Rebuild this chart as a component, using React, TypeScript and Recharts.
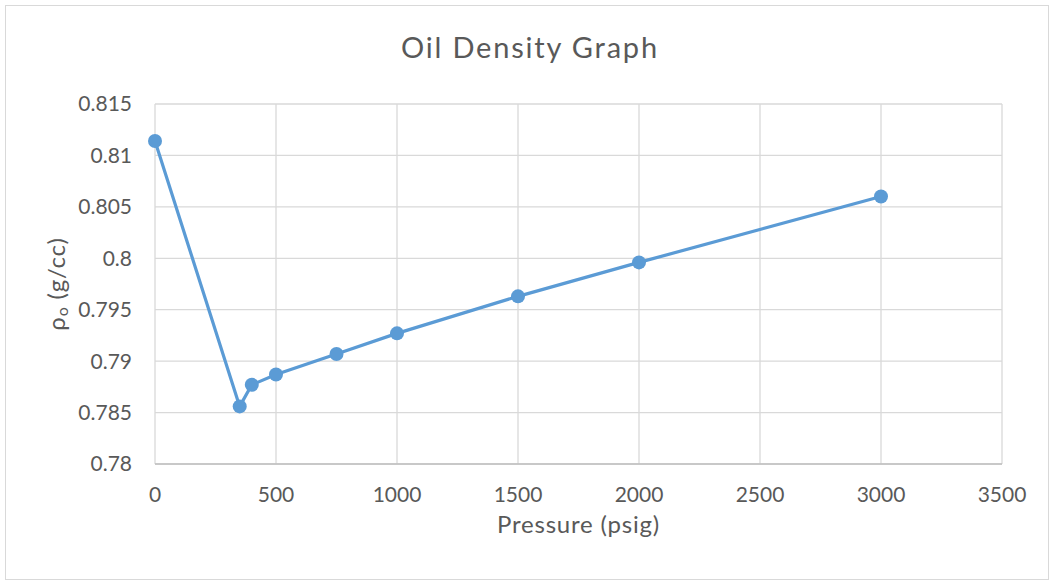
import { LineChart, Line, XAxis, YAxis, CartesianGrid, Label } from "recharts";

const pressures = [0, 350, 400, 500, 750, 1000, 1500, 2000, 3000];
const densities = [0.8114, 0.7856, 0.7877, 0.7887, 0.7907, 0.7927, 0.7963, 0.7996, 0.806];
const xTicks = [0, 500, 1000, 1500, 2000, 2500, 3000, 3500];
const yTicks = [0.78, 0.785, 0.79, 0.795, 0.8, 0.805, 0.81, 0.815];

const FONT = "Lato, 'Open Sans', sans-serif";
const TEXT = "#595959";

const data = pressures.map((p, i) => ({ p, d: densities[i] }));

export default function App() {
  return (
    <div style={{ position: "absolute", left: 0, top: 0, width: 1054, height: 584, background: "#fff" }}>
      <svg width={1054} height={584} style={{ position: "absolute", left: 0, top: 0 }}>
        <rect x={5.5} y={5.5} width={1043} height={574} fill="#fff" stroke="#d9d9d9" />
        <text x={530} y={58} textAnchor="middle" fill={TEXT} fontSize={29} letterSpacing={1.8} fontFamily={FONT}>
          Oil Density Graph
        </text>
      </svg>
      <LineChart
        width={1054}
        height={584}
        data={data}
        margin={{ top: 104, right: 52, left: 75, bottom: 60 }}
        style={{ position: "absolute", left: 0, top: 0 }}
      >
        <CartesianGrid stroke="#d9d9d9" strokeWidth={1.3} />
        <XAxis
          dataKey="p"
          type="number"
          domain={[0, 3500]}
          ticks={xTicks}
          height={60}
          tickLine={false}
          tickSize={0}
          tickMargin={23}
          axisLine={{ stroke: "#bfbfbf", strokeWidth: 1.3 }}
          tick={{ fill: TEXT, fontSize: 21, fontFamily: FONT }}
        >
          <Label
            content={(props: any) => {
              const vb = props.viewBox;
              return (
                <text
                  x={vb.x + vb.width / 2}
                  y={533}
                  textAnchor="middle"
                  fill={TEXT}
                  fontSize={24}
                  letterSpacing={0.8}
                  fontFamily={FONT}
                >
                  Pressure (psig)
                </text>
              );
            }}
          />
        </XAxis>
        <YAxis
          type="number"
          domain={[0.78, 0.815]}
          ticks={yTicks}
          width={80}
          tickLine={false}
          tickSize={0}
          tickMargin={23}
          axisLine={false}
          tickFormatter={(v: number) => String(Number(v.toFixed(3)))}
          tick={{ fill: TEXT, fontSize: 21, fontFamily: FONT }}
        >
          <Label
            content={(props: any) => {
              const vb = props.viewBox;
              const cy = vb.y + vb.height / 2;
              return (
                <text
                  x={65}
                  y={cy}
                  transform={`rotate(-90 65 ${cy})`}
                  textAnchor="middle"
                  fill={TEXT}
                  fontSize={24}
                  letterSpacing={0.8}
                  fontFamily={FONT}
                >
                  ρ
                  <tspan fontSize={16} dy={3}>o</tspan>
                  <tspan dy={-3}> (g/cc)</tspan>
                </text>
              );
            }}
          />
        </YAxis>
        <Line
          type="linear"
          dataKey="d"
          stroke="#5b9bd5"
          strokeWidth={3.2}
          dot={{ r: 7, fill: "#5b9bd5", stroke: "#5b9bd5", strokeWidth: 0 }}
          isAnimationActive={false}
        />
      </LineChart>
    </div>
  );
}
